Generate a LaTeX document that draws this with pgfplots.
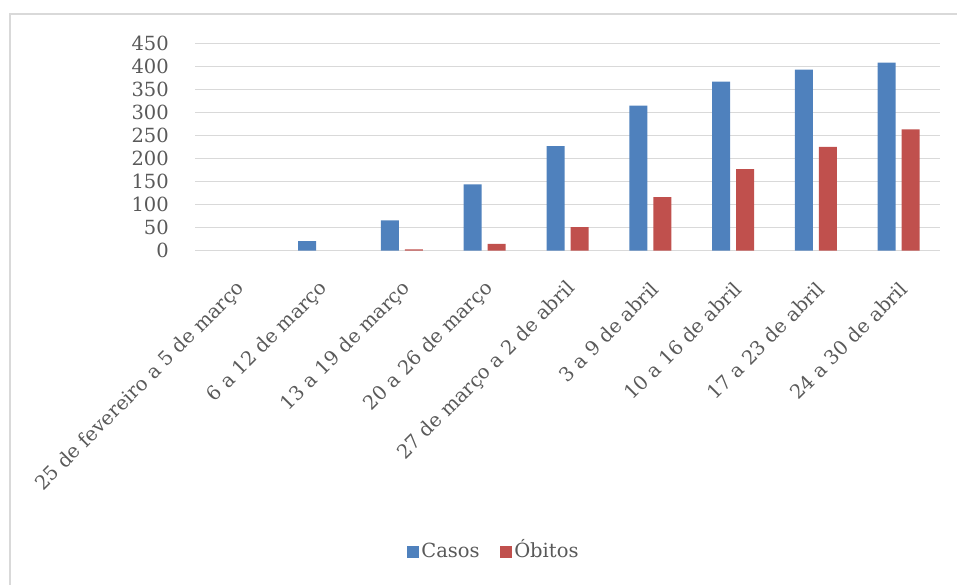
\documentclass[border=0pt]{standalone}
\usepackage{fontspec}
\setmainfont{DejaVu Serif}
\usepackage{pgfplots}
\pgfplotsset{compat=1.18}
\definecolor{cblue}{HTML}{4F81BD}
\definecolor{cred}{HTML}{C0504D}
\definecolor{gridc}{HTML}{D9D9D9}
\definecolor{txt}{HTML}{595959}
\begin{document}
\begin{tikzpicture}[x=1pt,y=1pt]
\useasboundingbox (0,0) rectangle (957,585);
\draw[gridc, line width=2.5pt] (10,-5) -- (10,571) -- (962,571);
\begin{axis}[
  at={(195pt,334.3pt)}, anchor=south west,
  scale only axis, width=745pt, height=207.4pt,
  xmin=-0.5, xmax=8.5, ymin=0, ymax=450,
  ytick={0,50,...,450},
  xtick={0,...,8},
  xticklabels={25 de fevereiro a 5 de março,6 a 12 de março,13 a 19 de março,20 a 26 de março,27 de março a 2 de abril,3 a 9 de abril,10 a 16 de abril,17 a 23 de abril,24 a 30 de abril},
  ymajorgrids, grid style={gridc, line width=1.5pt},
  axis line style={draw=none},
  major tick length=0pt,
  tick label style={font=\fontsize{19.5}{23}\selectfont, text=txt},
  /pgf/number format/assume math mode=true,
  yticklabel style={anchor=east, inner sep=0pt, xshift=-26pt},
  xticklabel style={rotate=45, anchor=east, inner sep=0pt, xshift=-21pt, yshift=-28pt},
  ybar, bar width=18pt,
  legend columns=2,
  legend style={at={(0.401,-1.453)}, anchor=center, draw=none, fill=none,
    font=\fontsize{19.5}{23}\selectfont, text=txt,
    nodes={text height=14pt, text depth=4pt},
    /tikz/every even column/.append style={column sep=18pt}},
  legend image code/.code={\fill[#1] (0pt,-6pt) rectangle (12.5pt,6.5pt);},
]
\addplot[fill=cblue, draw=none, bar shift=-12pt] coordinates {(1,21) (2,66) (3,144) (4,227) (5,315) (6,367) (7,393) (8,408)};
\addplot[fill=cred, draw=none, bar shift=12pt] coordinates {(2,3) (3,15) (4,51) (5,116) (6,177) (7,225) (8,263)};
\legend{Casos,Óbitos}
\end{axis}
\end{tikzpicture}
\end{document}
